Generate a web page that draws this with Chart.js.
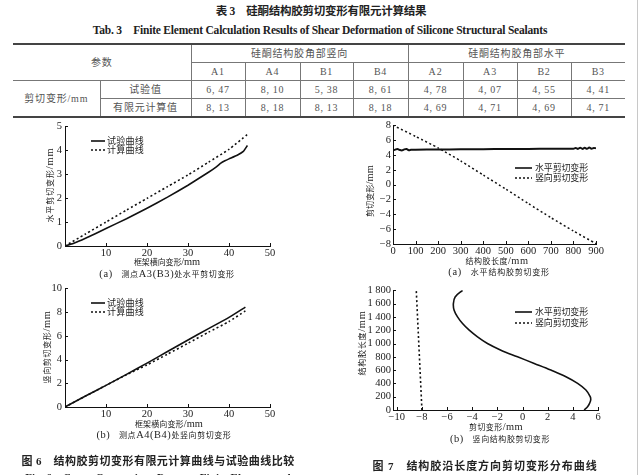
<!DOCTYPE html>
<html>
<head>
<meta charset="utf-8">
<script src="https://cdn.jsdelivr.net/npm/chart.js@4.4.0/dist/chart.umd.min.js"></script>
<style>
  html, body { margin: 0; padding: 0; background: #fff; }
  #page { position: relative; width: 640px; height: 475px; overflow: hidden; background: #fff;
          font-family: "Liberation Serif", "Noto Sans CJK SC", serif; color: #222; }
  .txt { position: absolute; white-space: nowrap; line-height: 1; }
  .txt .lat { font-size: 130%; }
  canvas { position: absolute; }
  #edge { position: absolute; left: 637px; top: 0; width: 1px; height: 475px; background: #c8c8c8; }
  table { position: absolute; left: 13px; top: 43px; width: 612px; border-collapse: collapse;
          table-layout: fixed; font-size: 10px; color: #555; }
  td { padding: 0; height: 17px; text-align: center; vertical-align: middle; line-height: 1;
       border-right: 1px solid #777; border-bottom: 1px solid #777; letter-spacing: 0.8px; }
  td.last { border-right: none; }
  tr.top td { border-top: 2px solid #444; }
  tr.bottom td, td.rs { border-bottom: 2px solid #444; }
</style>
</head>
<body>
<div id="page">
  <div id="edge"></div>
  <table id="tab"></table>
  <canvas id="c6a"></canvas>
  <canvas id="c6b"></canvas>
  <canvas id="c7a"></canvas>
  <canvas id="c7b"></canvas>
</div>
<script>
// ---- table 3 ----
const groupNames = ['硅酮结构胶角部竖向', '硅酮结构胶角部水平'];
const pointNames = ['A1', 'A4', 'B1', 'B4', 'A2', 'A3', 'B2', 'B3'];
const testValues = [6.47, 8.10, 5.38, 8.61, 4.78, 4.07, 4.55, 4.41];
const femValues = [8.13, 8.18, 8.13, 8.18, 4.69, 4.71, 4.69, 4.71];

// ---- fig 6(a): horizontal shear at A3(B3) ----
const fig6aTestX = [0, 2, 5, 10, 15, 20, 25, 30, 35, 37, 38, 39, 40, 42, 43.5, 44.5];
const fig6aTest = [0, 0.1, 0.32, 0.73, 1.14, 1.58, 2.04, 2.54, 3.08, 3.32, 3.46, 3.56, 3.64, 3.79, 3.95, 4.2];
const fig6aCalcX = [0, 5, 10, 15, 20, 25, 30, 35, 40, 44.5];
const fig6aCalc = [0, 0.5, 1.0, 1.5, 1.99, 2.48, 2.97, 3.5, 4.04, 4.66];

// ---- fig 6(b): vertical shear at A4(B4) ----
const fig6bX = [0, 5, 10, 15, 20, 25, 30, 35, 40, 44];
const fig6bTest = [0, 0.92, 1.82, 2.75, 3.7, 4.67, 5.65, 6.6, 7.55, 8.42];
const fig6bCalc = [0, 0.92, 1.82, 2.72, 3.55, 4.45, 5.37, 6.3, 7.2, 8.1];

// ---- fig 7(a): horizontal sealant, along length ----
const fig7aHorizX = [0, 10, 20, 30, 40, 50, 60, 70, 80, 100, 200, 300, 400, 500, 600, 700,
                     800, 810, 820, 830, 840, 850, 860, 870, 880, 890, 900];
const fig7aHoriz = [4.62, 4.72, 4.8, 4.68, 4.62, 4.75, 4.8, 4.65, 4.7, 4.72, 4.74, 4.76, 4.78, 4.8, 4.82, 4.84,
                    4.85, 4.95, 4.82, 4.98, 4.82, 4.96, 4.83, 5.0, 4.85, 4.95, 4.9];
const fig7aVertX = [0, 100, 200, 300, 400, 500, 600, 700, 800, 900];
const fig7aVert = [8, 6.5, 4.95, 3.2, 1.3, -0.6, -2.55, -4.45, -6.25, -7.95];

// ---- fig 7(b): vertical sealant, along length ----
const fig7bLength = [0, 50, 100, 150, 200, 300, 400, 500, 600, 700, 800, 900, 1000,
                     1100, 1200, 1300, 1400, 1500, 1600, 1700, 1800];
const fig7bHoriz = [4.9, 5.17, 5.33, 5.42, 5.38, 5.04, 4.38, 3.45, 2.25, 0.93, -0.4, -1.72, -2.79,
                    -3.58, -4.24, -4.77, -5.17, -5.44, -5.5, -5.36, -4.77];
const fig7bVertLength = [0, 600, 1200, 1800];
const fig7bVert = [-8.0, -8.15, -8.3, -8.45];

function fmtComma(v) { return v.toFixed(2).replace('.', ',\u2009'); }

function buildTable() {
  const widths = [87, 91, 54, 55, 53, 55, 55, 54, 54, 54];
  let h = '<colgroup>' + widths.map(w => '<col style="width:' + w + 'px">').join('') + '</colgroup>';
  h += '<tr class="top"><td rowspan="2" colspan="2">参数</td>' +
       '<td colspan="4">' + groupNames[0] + '</td><td colspan="4" class="last">' + groupNames[1] + '</td></tr>';
  h += '<tr>' + pointNames.map((p, i) => '<td' + (i === 7 ? ' class="last"' : '') + '>' + p + '</td>').join('') + '</tr>';
  h += '<tr><td rowspan="2" class="rs">剪切变形/mm</td><td>试验值</td>' +
       testValues.map((v, i) => '<td' + (i === 7 ? ' class="last"' : '') + '>' + fmtComma(v) + '</td>').join('') + '</tr>';
  h += '<tr class="bottom"><td>有限元计算值</td>' +
       femValues.map((v, i) => '<td' + (i === 7 ? ' class="last"' : '') + '>' + fmtComma(v) + '</td>').join('') + '</tr>';
  document.getElementById('tab').innerHTML = h;
}

// text: [content, x, y, target width, size, bold, rotate, anchor, latin runs enlarged]
const texts = [
  ['表 3　硅酮结构胶剪切变形有限元计算结果', 321, 12, 211, 11.5, true, false, 'c', false],
  ['Tab. 3　Finite Element Calculation Results of Shear Deformation of Silicone Structural Sealants', 320, 31, 454, 11.5, true, false, 'c', false],
  ['水平剪切变形/mm', 50, 185, 75, 8, false, true, 'c', true],
  ['框架横向变形/mm', 167, 262, 66, 8, false, false, 'c', true],
  ['(a)　测点A3(B3)处水平剪切变形', 167, 274, 135, 8, false, false, 'c', true],
  ['竖向剪切变形/mm', 47, 347, 73, 8, false, true, 'c', true],
  ['框架横向变形/mm', 169, 424, 68, 8, false, false, 'c', true],
  ['(b)　测点A4(B4)处竖向剪切变形', 164, 435, 135, 8, false, false, 'c', true],
  ['图 6　结构胶剪切变形有限元计算曲线与试验曲线比较', 158, 461, 273, 11, true, false, 'c', false],
  ['Fig. 6　Curve Comparison Between Finite Element and', 158, 477, 265, 11, true, false, 'c', false],
  ['剪切变形/mm', 370, 191, 52, 8, false, true, 'c', true],
  ['结构胶长度/mm', 497, 261, 63, 8, false, false, 'c', true],
  ['(a)　水平结构胶剪切变形', 499, 272, 102, 8, false, false, 'c', true],
  ['结构胶长度/mm', 362, 343, 65, 8, false, true, 'c', true],
  ['剪切变形/mm', 496, 427, 54, 8, false, false, 'c', true],
  ['(b)　竖向结构胶剪切变形', 500, 439, 100, 8, false, false, 'c', true],
  ['图 7　结构胶沿长度方向剪切变形分布曲线', 485, 466, 225, 11, true, false, 'c', false],
  ['试验曲线', 107, 141, 37, 9, false, false, 'l', false],
  ['计算曲线', 107, 150, 37, 9, false, false, 'l', false],
  ['试验曲线', 107, 303, 37, 9, false, false, 'l', false],
  ['计算曲线', 107, 312, 37, 9, false, false, 'l', false],
  ['水平剪切变形', 535, 168, 53, 9, false, false, 'l', false],
  ['竖向剪切变形', 535, 178, 53, 9, false, false, 'l', false],
  ['水平剪切变形', 535, 312, 53, 9, false, false, 'l', false],
  ['竖向剪切变形', 535, 323, 53, 9, false, false, 'l', false]
];

// legend keys: [x1, x2, y, dashed]
const keys = [
  [91, 105, 141, false], [91, 105, 150, true],
  [91, 105, 303, false], [91, 105, 312, true],
  [515, 532, 168, false], [515, 532, 178, true],
  [515, 532, 312, false], [515, 532, 323, true]
];

function fillText(el, s, mixed) {
  if (!mixed) { el.textContent = s; return; }
  // latin runs are set larger than the CJK glyphs, as in the scan
  s.split(/([A-Za-z0-9()\/.]+)/).forEach((part, i) => {
    if (!part) return;
    if (i % 2) {
      const sp = document.createElement('span');
      sp.className = 'lat';
      sp.textContent = part;
      el.appendChild(sp);
    } else {
      el.appendChild(document.createTextNode(part));
    }
  });
}

function placeTexts() {
  const page = document.getElementById('page');
  texts.forEach(([s, x, y, w, size, bold, rot, anchor, mixed]) => {
    const el = document.createElement('div');
    el.className = 'txt';
    fillText(el, s, mixed);
    el.style.fontSize = size + 'px';
    el.style.fontWeight = bold ? 'bold' : 'normal';
    page.appendChild(el);
    const n = [...s].length;
    const w0 = el.offsetWidth;
    el.style.letterSpacing = ((w - w0) / n) + 'px';
    el.style.top = y + 'px';
    el.style.left = x + 'px';
    let tf = anchor === 'c' ? 'translate(-50%,-50%)' : 'translate(0,-50%)';
    if (rot) tf += ' rotate(-90deg)';
    el.style.transform = tf;
  });
  keys.forEach(([x1, x2, y, dashed]) => {
    const svg = document.createElementNS('http://www.w3.org/2000/svg', 'svg');
    svg.setAttribute('width', x2 - x1);
    svg.setAttribute('height', 4);
    svg.style.position = 'absolute';
    svg.style.left = x1 + 'px';
    svg.style.top = (y - 2) + 'px';
    svg.innerHTML = '<line x1="0" y1="2" x2="' + (x2 - x1) + '" y2="2" stroke="#111" stroke-width="1.6"' +
      (dashed ? ' stroke-dasharray="2,2"' : '') + '/>';
    page.appendChild(svg);
  });
}

const inwardTicks = {
  id: 'inwardTicks',
  afterDatasetsDraw(chart) {
    const {ctx, chartArea: a, scales: {x, y}} = chart;
    ctx.save();
    ctx.strokeStyle = '#111';
    ctx.lineWidth = 1;
    ctx.beginPath();
    x.ticks.forEach(t => {
      const p = Math.round(x.getPixelForValue(t.value)) + 0.5;
      ctx.moveTo(p, a.bottom); ctx.lineTo(p, a.bottom - 3);
    });
    y.ticks.forEach(t => {
      const p = Math.round(y.getPixelForValue(t.value)) + 0.5;
      ctx.moveTo(a.left, p); ctx.lineTo(a.left + 3, p);
    });
    ctx.stroke();
    ctx.restore();
  }
};

const minus = v => String(v).replace('-', '\u2212');

function axis(cfg, dir, size) {
  return {
    type: 'linear', min: cfg.min, max: cfg.max,
    grid: {display: false, drawTicks: false},
    border: {display: true, color: '#111', width: 1},
    ticks: {
      stepSize: cfg.step, includeBounds: false, autoSkip: false, maxRotation: 0,
      padding: cfg.pad, color: '#222',
      font: {family: 'Liberation Serif', size: 10.5},
      callback: cfg.fmt || minus
    },
    afterFit(s) { if (dir === 'x') s.height = size; else s.width = size; }
  };
}

function line(xs, ys, dashed, width, tension) {
  return {
    data: xs.map((x, i) => ({x: x, y: ys[i]})),
    showLine: true, pointRadius: 0, borderColor: '#111',
    borderWidth: width, borderDash: dashed ? [2, 2.5] : [],
    tension: tension, fill: false
  };
}

function makeChart(id, area, xs, ys, datasets) {
  const padL = 40, padT = 8, padR = 14, padB = 22;
  const cv = document.getElementById(id);
  const w = area.r - area.l + padL + padR, h = area.b - area.t + padT + padB;
  cv.width = w; cv.height = h;
  cv.style.width = w + 'px'; cv.style.height = h + 'px';
  cv.style.left = (area.l - padL) + 'px';
  cv.style.top = (area.t - padT) + 'px';
  return new Chart(cv, {
    type: 'scatter',
    data: {datasets: datasets},
    options: {
      responsive: false, animation: false,
      layout: {padding: {left: 0, top: padT, right: padR, bottom: 0}},
      plugins: {legend: {display: false}, tooltip: {enabled: false}},
      scales: {x: axis(xs, 'x', padB), y: axis(ys, 'y', padL)}
    },
    plugins: [inwardTicks]
  });
}

const hideZero = v => v === 0 ? '' : v;

buildTable();
placeTexts();

makeChart('c6a', {l: 65, r: 270, t: 125, b: 246},
  {min: 0, max: 50, step: 10, pad: 1, fmt: hideZero},
  {min: 0, max: 5, step: 1, pad: 3},
  [line(fig6aTestX, fig6aTest, false, 1.6, 0.1), line(fig6aCalcX, fig6aCalc, true, 1.6, 0.2)]);

makeChart('c6b', {l: 65, r: 270, t: 287, b: 407},
  {min: 0, max: 50, step: 10, pad: 1, fmt: hideZero},
  {min: 0, max: 10, step: 2, pad: 3},
  [line(fig6bX, fig6bTest, false, 1.6, 0.2), line(fig6bX, fig6bCalc, true, 1.6, 0.2)]);

makeChart('c7a', {l: 393, r: 596, t: 125, b: 244},
  {min: 0, max: 900, step: 100, pad: 1},
  {min: -8, max: 8, step: 2, pad: 2},
  [line(fig7aHorizX, fig7aHoriz, false, 2, 0.3), line(fig7aVertX, fig7aVert, true, 1.5, 0.2)]);

makeChart('c7b', {l: 393, r: 598, t: 290, b: 410},
  {min: -10.3, max: 6, step: 2, pad: 1},
  {min: 0, max: 1800, step: 200, pad: 2, fmt: v => String(v).replace(/(\d)(\d{3})$/, '$1 $2')},
  [line(fig7bHoriz, fig7bLength, false, 1.6, 0.35), line(fig7bVert, fig7bVertLength, true, 1.6, 0)]);
</script>
</body>
</html>
